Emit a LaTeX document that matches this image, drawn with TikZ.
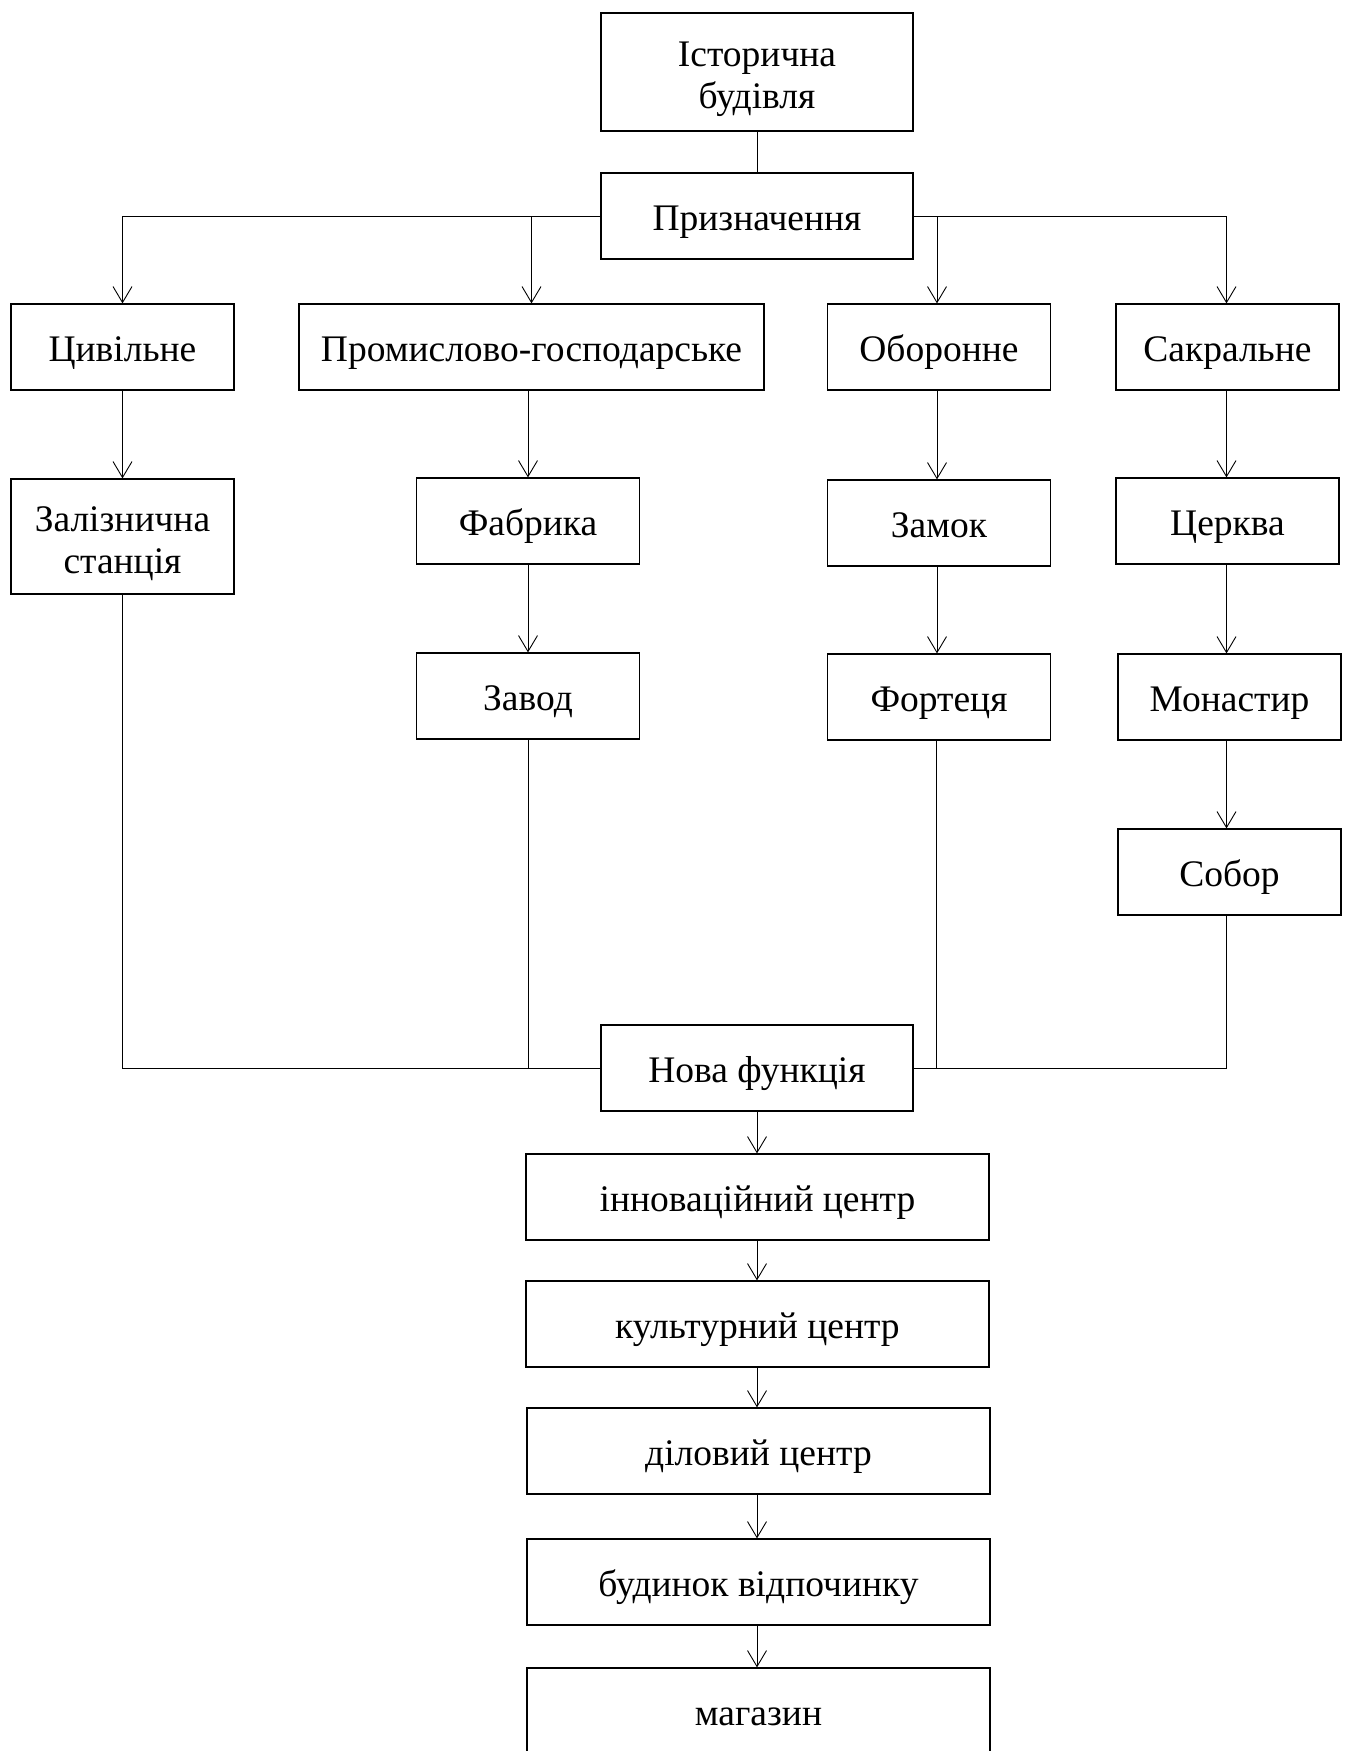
\documentclass[tikz,border=0pt]{standalone}
\usepackage{fontspec}
\setmainfont{Liberation Serif}
\usetikzlibrary{arrows.meta}
\begin{document}
\begin{tikzpicture}[x=1pt,y=-1pt,
  box/.style={draw,line width=1.2pt,inner sep=0pt,align=center,
    font=\fontsize{37.5}{42}\selectfont, text height=33pt, text depth=4pt},
  two/.style={text height=,text depth=},
  w1/.style={minimum width=312pt},
  w2/.style={minimum width=223pt},
  w3/.style={minimum width=463pt},
  conn/.style={line width=0.9pt},
  arr/.style={conn,-{Straight Barb[length=16pt,width=19pt,line width=0.9pt]}}]
\useasboundingbox (0,0) rectangle (1349,1751);
\node[box,two,w1,minimum height=118pt] (hist) at (757,72) {\rule{0pt}{39pt}Історична\\будівля};
\node[box,w1,minimum height=86pt] (purp) at (757,216) {Призначення};
\node[box,w2,minimum height=86pt] (civ) at (122.5,347) {Цивільне};
\node[box,minimum width=465pt,minimum height=86pt] (ind) at (531.5,347) {Промислово-господарське};
\node[box,w2,minimum height=86pt] (def) at (939,347) {Оборонне};
\node[box,w2,minimum height=86pt] (sac) at (1227.5,347) {Сакральне};
\node[box,two,w2,minimum height=115pt] (rail) at (122.5,536.5) {\rule{0pt}{39pt}Залізнична\\станція};
\node[box,w2,minimum height=86pt] (fab) at (528,521) {Фабрика};
\node[box,w2,minimum height=86pt] (castle) at (939,523) {Замок};
\node[box,w2,minimum height=86pt] (church) at (1227.5,521) {Церква};
\node[box,w2,minimum height=86pt] (zavod) at (528,696) {Завод};
\node[box,w2,minimum height=86pt] (fort) at (939,697) {Фортеця};
\node[box,w2,minimum height=86pt] (mon) at (1229.5,697) {Монастир};
\node[box,w2,minimum height=86pt] (sobor) at (1229.5,872) {Собор};
\node[box,w1,minimum height=86pt] (new) at (757,1068) {Нова функція};
\node[box,w3,minimum height=86pt] (inn) at (757.5,1197) {інноваційний центр};
\node[box,w3,minimum height=86pt] (cult) at (757.5,1324) {культурний центр};
\node[box,w3,minimum height=86pt] (bus) at (758.5,1451) {діловий центр};
\node[box,w3,minimum height=86pt] (rest) at (758.5,1582) {будинок відпочинку};
\node[box,w3,minimum height=86pt] (shop) at (758.5,1711) {магазин};
% top
\draw[conn] (hist.south) -- (purp.north);
\draw[arr] (purp.west) -| (civ.north);
\draw[arr] (purp.west) -| (ind.north);
\draw[arr] (purp.east) -| ([xshift=-2pt]def.north);
\draw[arr] (purp.east) -| ([xshift=-1pt]sac.north);
% chains
\draw[arr] (civ.south) -- (rail.north);
\draw[arr] (ind.south -| fab.north) -- (fab.north);
\draw[arr] ([xshift=-2pt]def.south) -- ([xshift=-2pt]castle.north);
\draw[arr] ([xshift=-1pt]sac.south) -- ([xshift=-1pt]church.south |- church.north);
\draw[arr] (fab.south) -- (zavod.north);
\draw[arr] ([xshift=-2pt]castle.south) -- ([xshift=-2pt]fort.north);
\draw[arr] ([xshift=-1pt]church.south) -- ([xshift=-1pt]church.south |- mon.north);
\draw[arr] ([xshift=-3pt]mon.south) -- ([xshift=-3pt]sobor.north);
% merge
\draw[conn] (rail.south) |- (new.west);
\draw[conn] (zavod.south) |- (new.west);
\draw[conn] ([xshift=-3pt]fort.south) |- (new.east);
\draw[conn] ([xshift=-3pt]sobor.south) |- (new.east);
% bottom chain
\draw[arr] (new.south) -- (new.south |- inn.north);
\draw[arr] (new.south |- inn.south) -- (new.south |- cult.north);
\draw[arr] (new.south |- cult.south) -- (new.south |- bus.north);
\draw[arr] (new.south |- bus.south) -- (new.south |- rest.north);
\draw[arr] (new.south |- rest.south) -- (new.south |- shop.north);
\end{tikzpicture}
\end{document}
